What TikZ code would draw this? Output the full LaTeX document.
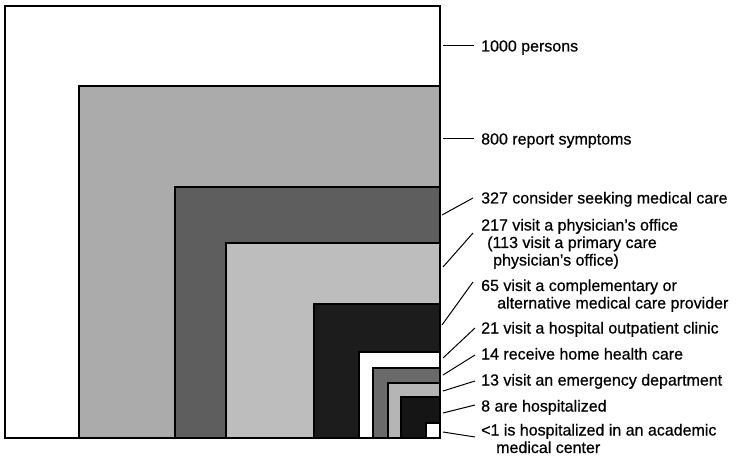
\documentclass[tikz,border=0pt]{standalone}
\usepackage{fontspec}
\setmainfont{Liberation Sans}[FakeBold=0.6]
\begin{document}
\begin{tikzpicture}[x=1pt,y=-1pt,
  sq/.style={draw=black,line width=1.4pt},
  lead/.style={draw=black,line width=1pt},
  lbl/.style={anchor=base west,inner sep=0pt,align=left,font=\fontsize{16}{17.5}\selectfont}]
\useasboundingbox (0,0) rectangle (742,457);
\definecolor{gA}{HTML}{ABABAB}
\definecolor{gB}{HTML}{5E5E5E}
\definecolor{gC}{HTML}{BDBDBD}
\definecolor{gD}{HTML}{1C1C1C}
\definecolor{gE}{HTML}{6A6A6A}
\definecolor{gF}{HTML}{B5B5B5}
\definecolor{gG}{HTML}{151515}
% squares
\path[sq,fill=white] (5,6) rectangle (440,438);
\path[sq,fill=gA] (79,86) rectangle (440,438);
\path[sq,fill=gB] (175,187) rectangle (440,438);
\path[sq,fill=gC] (226,243) rectangle (440,438);
\path[sq,fill=gD] (314,304) rectangle (440,438);
\path[sq,fill=white] (359,352) rectangle (440,438);
\path[sq,fill=gE] (373,368) rectangle (440,438);
\path[sq,fill=gF] (388,383) rectangle (440,438);
\path[sq,fill=gG] (401,397) rectangle (440,438);
\path[sq,fill=white] (426,423) rectangle (440,438);
% labels (multi-line labels are placed by the baseline of their last line)
\node[lbl] (t1) at (481,51.5) {1000 persons};
\node[lbl] (t2) at (481,144.5) {800 report symptoms};
\node[lbl] (t3) at (481,203.5) {327 consider seeking medical care};
\node[lbl] (t4) at (481,265.5) {217 visit a physician’s office\\\hspace*{6pt}(113 visit a primary care\\\hspace*{12pt}physician’s office)};
\node[lbl] (t5) at (481,308.5) {65 visit a complementary or\\\hspace*{16pt}alternative medical care provider};
\node[lbl] (t6) at (481,333.5) {21 visit a hospital outpatient clinic};
\node[lbl] (t7) at (481,359.5) {14 receive home health care};
\node[lbl] (t8) at (481,385.5) {13 visit an emergency department};
\node[lbl] (t9) at (481,411.5) {8 are hospitalized};
\node[lbl] (t10) at (481,453) {<1 is hospitalized in an academic\\\hspace*{15pt}medical center};
% leader coordinates
\coordinate (a1) at (443,46);  \coordinate (b1) at (474,46);
\coordinate (a2) at (443,139); \coordinate (b2) at (474,139);
\coordinate (a3) at (442,215); \coordinate (b3) at (473,198);
\coordinate (a4) at (443,267); \coordinate (b4) at (473,233);
\coordinate (a5) at (442,325); \coordinate (b5) at (473,282);
\coordinate (a6) at (443,358); \coordinate (b6) at (475,328);
\coordinate (a7) at (443,375); \coordinate (b7) at (475,355);
\coordinate (a8) at (443,391); \coordinate (b8) at (475,381);
\coordinate (a9) at (443,413); \coordinate (b9) at (475,405);
\coordinate (a10) at (443,432); \coordinate (b10) at (475,437);
\foreach \i in {1,...,10} {\draw[lead] (a\i) -- (b\i);}
\end{tikzpicture}
\end{document}
